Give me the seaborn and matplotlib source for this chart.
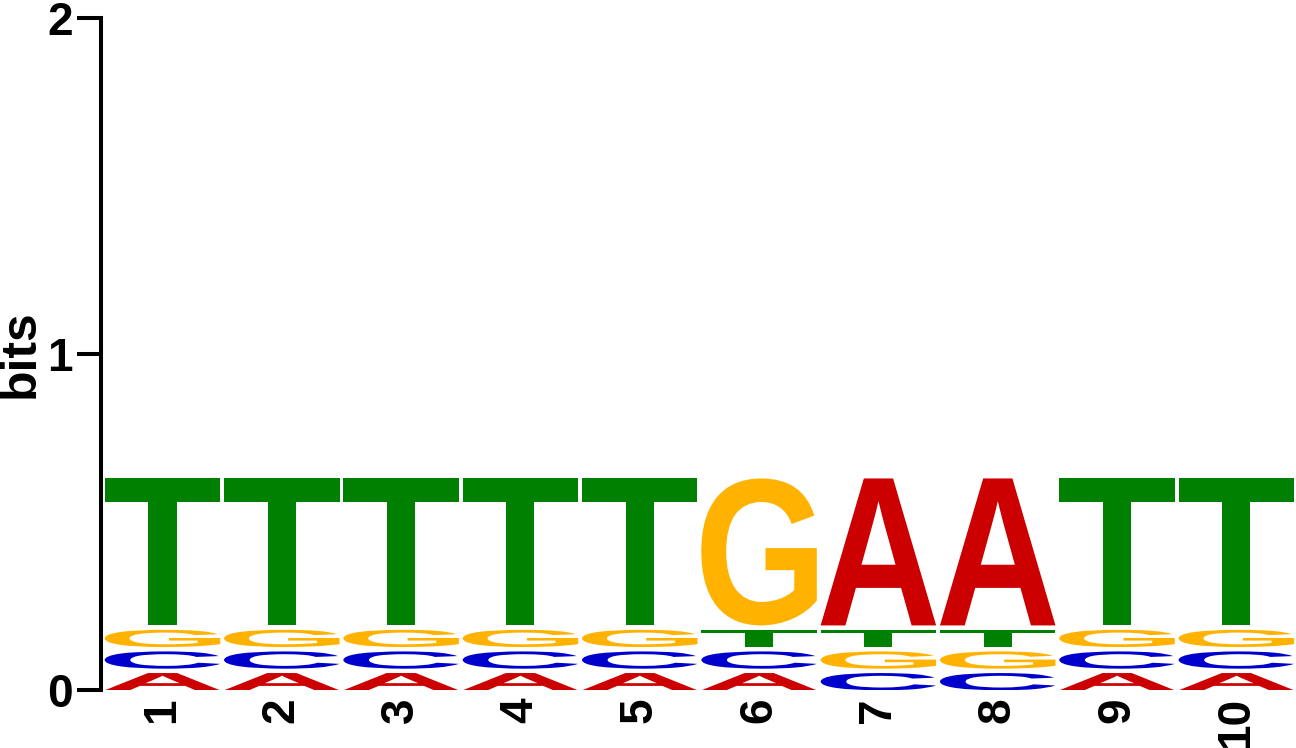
import numpy as np
import seaborn as sns
import matplotlib
matplotlib.use("Agg")
import matplotlib.pyplot as plt
from matplotlib.textpath import TextPath
from matplotlib.patches import PathPatch
from matplotlib.font_manager import FontProperties
from matplotlib.transforms import Affine2D

# position-wise letter probabilities
positions = [1, 2, 3, 4, 5, 6, 7, 8, 9, 10]
prob_A = [0.1, 0.1, 0.1, 0.1, 0.1, 0.1, 0.7, 0.7, 0.1, 0.1]
prob_C = [0.1, 0.1, 0.1, 0.1, 0.1, 0.1, 0.1, 0.1, 0.1, 0.1]
prob_G = [0.1, 0.1, 0.1, 0.1, 0.1, 0.7, 0.1, 0.1, 0.1, 0.1]
prob_T = [0.7, 0.7, 0.7, 0.7, 0.7, 0.1, 0.1, 0.1, 0.7, 0.7]
letters = ["A", "C", "G", "T"]
colors = {"A": "#cc0000", "C": "#0000cc", "G": "#ffb300", "T": "#008000"}
y_ticks = [0, 1, 2]

sns.set_style("ticks")
plt.rcParams["font.family"] = ["Liberation Sans", "DejaVu Sans"]
plt.rcParams["font.weight"] = "bold"
for k in ["text.color", "axes.labelcolor", "xtick.color", "ytick.color",
          "axes.edgecolor"]:
    plt.rcParams[k] = "black"

fig = plt.figure(figsize=(12.96, 7.48), dpi=100)
ax = fig.add_axes([101 / 1296, 57.7 / 748, 1195 / 1296, 672.3 / 748])

fp = FontProperties(family="Liberation Sans", weight="bold")
glyphs = {}
for L in letters:
    p = TextPath((0, 0), L, size=1, prop=fp)
    glyphs[L] = (p, p.get_extents())

probs = np.array([prob_A, prob_C, prob_G, prob_T])  # 4 x N
width = 0.968
gap = 0.013
for j, x in enumerate(positions):
    col = probs[:, j]
    ic = 2 + np.sum(col * np.log2(col))
    heights = col * ic
    order = sorted(range(4), key=lambda k: heights[k])  # stable: ties keep A,C,G,T
    y0 = 0.0
    for k in order:
        h = heights[k]
        path, bb = glyphs[letters[k]]
        gh = h - gap
        tr = (Affine2D().translate(-bb.x0, -bb.y0)
              .scale(width / bb.width, gh / bb.height)
              .translate(x - width / 2, y0))
        ax.add_patch(PathPatch(tr.transform_path(path), fc=colors[letters[k]],
                               ec="none", lw=0))
        y0 += h

ax.set_xlim(0.485, 10.5)
ax.set_ylim(0, 2)
ax.set_yticks(y_ticks)
ax.set_yticklabels([str(t) for t in y_ticks], fontsize=33, fontweight="bold",
                   color="black")
ax.set_xticks(positions)
ax.set_xticklabels([str(p) for p in positions], rotation=90, fontsize=33,
                   fontweight="bold", color="black")
ax.tick_params(axis="y", length=17.3, width=2.9, pad=3, color="black")
ax.tick_params(axis="x", length=0, pad=5)
ax.set_ylabel("bits", fontsize=36, fontweight="bold", color="black")
ax.yaxis.set_label_coords(-0.048, 0.5)
sns.despine(ax=ax, top=True, right=True, bottom=True)
ax.spines["left"].set_linewidth(2.9)
ax.spines["left"].set_color("black")
ax.set_facecolor("white")

fig.savefig("out.png", dpi=100, facecolor="white")
